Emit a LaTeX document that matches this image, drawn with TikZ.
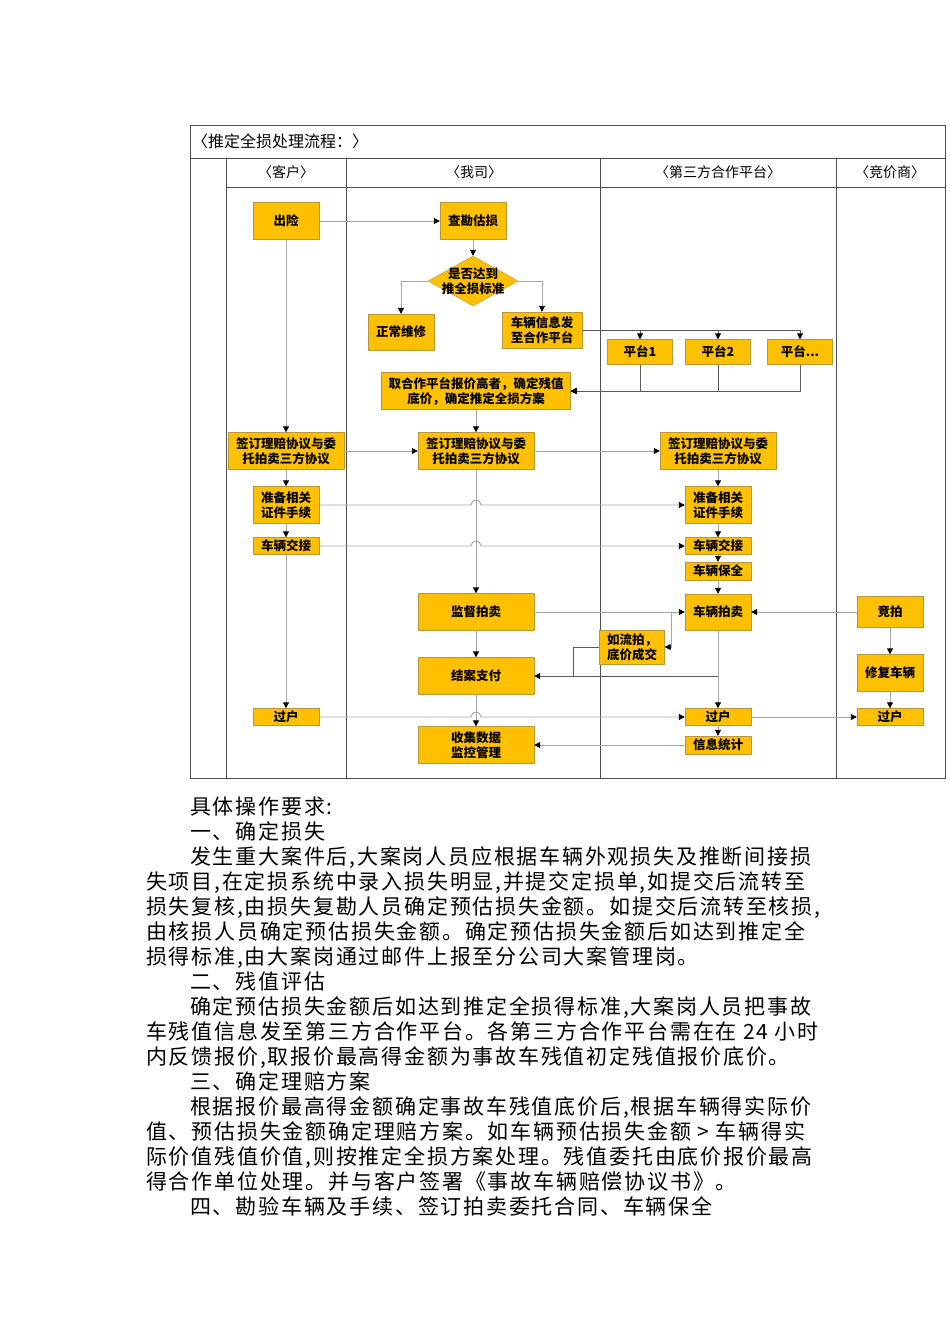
\documentclass[tikz,border=0pt]{standalone}
\usepackage{fontspec}
\newfontfamily\cjk{Noto Sans CJK SC}
\newfontfamily\bodyfont{Noto Sans CJK SC}[LetterSpace=8.5]
\usetikzlibrary{shapes.geometric,arrows.meta,calc}
\definecolor{boxfill}{HTML}{FFC000}
\definecolor{boxline}{HTML}{B8963C}
\definecolor{laneline}{HTML}{4D4D4D}
\definecolor{flowline}{HTML}{A6A6A6}
\definecolor{darkflow}{HTML}{595959}

\begin{document}
\begin{tikzpicture}
[x=1pt, y=-1pt,
>={Triangle[length=6pt,width=6pt,color=black]},
box/.style = {draw=boxline, fill=boxfill, align=center, inner sep=0pt,
	font=\cjk\bfseries\fontsize{12.5}{15}\selectfont,
	minimum width=66pt, minimum height=37pt},
wide/.style = {box, minimum width=116pt},
thin/.style = {box, minimum height=17pt},
check/.style = {box, shape=diamond, aspect=1.8, inner sep=-4pt,
	minimum width=90pt, minimum height=50pt},
lane/.style = {inner sep=0pt, font=\cjk\fontsize{14}{16}\selectfont},
line/.style = {draw=flowline, line width=0.9pt},
dline/.style = {draw=darkflow, line width=0.9pt},
para/.style = {anchor=west, inner sep=0pt, text height=17pt, text depth=4pt,
	font=\bodyfont\fontsize{21}{25}\selectfont},
]
\fill[white] (0,0) rectangle (950,1344);
\useasboundingbox (0,0) rectangle (950,1344);

% swimlanes
\draw[laneline, line width=1pt] (190,125) rectangle (945,778);
\draw[laneline] (190,158) -- (945,158) (226,187) -- (945,187);
\foreach \x in {226,346,600,836}
	\draw[laneline] (\x,158) -- (\x,778);
\node[lane, anchor=west, font=\cjk\fontsize{16}{18}\selectfont] (title) at (192,141) {〈推定全损处理流程：〉};
\node[lane] (kehu) at (286,172) {〈客户〉};
\node[lane] (wosi) at (474,172) {〈我司〉};
\node[lane] (disanfang) at (718,172) {〈第三方合作平台〉};
\node[lane] (jingjia) at (890,172) {〈竞价商〉};

% steps
\node[box] (chuxian) at (286,221) {出险};
\node[box] (chakan) at (473,221) {查勘估损};
\node[check] (panduan) at (473,281) {是否达到\\推全损标准};
\node[box, minimum height=36pt] (weixiu) at (401,332) {正常维修};
\node[box, minimum width=80pt, minimum height=36pt] (fasong) at (542,330) {车辆信息发\\至合作平台};
\node[box, minimum width=65pt, minimum height=25pt] (pingtai1) at (640,352) {平台1};
\node[box, minimum width=65pt, minimum height=25pt] (pingtai2) at (718,352) {平台2};
\node[box, minimum width=65pt, minimum height=25pt] (pingtai3) at (800,352) {平台...};
\node[box, minimum width=189pt] (dijia) at (476,391) {取合作平台报价高者，确定残值\\底价，确定推定全损方案};
\node[wide] (xieyi1) at (286,451) {签订理赔协议与委\\托拍卖三方协议};
\node[wide] (xieyi2) at (476,451) {签订理赔协议与委\\托拍卖三方协议};
\node[wide] (xieyi3) at (718,451) {签订理赔协议与委\\托拍卖三方协议};
\node[box] (zhunbei1) at (286,505) {准备相关\\证件手续};
\node[box] (zhunbei3) at (718,505) {准备相关\\证件手续};
\node[thin] (jiaojie1) at (286,546) {车辆交接};
\node[thin] (jiaojie3) at (718,546) {车辆交接};
\node[thin, minimum height=18pt] (baoquan) at (718,571) {车辆保全};
\node[wide] (jiandu) at (476,612) {监督拍卖};
\node[box, minimum height=36pt] (paimai) at (718,612) {车辆拍卖};
\node[box, minimum height=31pt] (jingpai) at (890,612) {竞拍};
\node[box, minimum width=65pt, minimum height=34pt, align=left] (liupai) at (632,647) {如流拍，\\底价成交};
\node[wide] (jiean) at (476,676) {结案支付};
\node[box] (xiufu) at (890,673) {修复车辆};
\node[thin] (guohu1) at (286,717) {过户};
\node[thin] (guohu3) at (718,717) {过户};
\node[thin] (guohu4) at (890,717) {过户};
\node[wide] (shouji) at (476,745) {收集数据\\监控管理};
\node[thin, minimum height=18pt] (tongji) at (718,745) {信息统计};
\coordinate (liufork) at (671,612);
\coordinate (liubend) at (573,676);

% flow
\draw[line,->] (chuxian) -- (chakan);
\draw[line,->] (chuxian) -- (xieyi1);
\draw[line,->] (chakan) -- (panduan);
\draw[line,->] (panduan.west) -| (weixiu);
\draw[line,->] (panduan.east) -| (fasong);
\draw[dline,->] (fasong.east) -| (pingtai1);
\draw[dline,->] (fasong.east) -| (pingtai2);
\draw[dline,->] (fasong.east) -| (pingtai3);
\draw[dline,->] (pingtai1) |- (dijia.east);
\draw[dline,->] (pingtai2) |- (dijia.east);
\draw[dline,->] (pingtai3) |- (dijia.east);
\draw[line,->] (dijia) -- (xieyi2);
\draw[line,->] (xieyi1) -- (xieyi2);
\draw[line,->] (xieyi2) -- (xieyi3);
\draw[line,->] (xieyi1) -- (zhunbei1);
\draw[line,->] (zhunbei1) -- (jiaojie1);
\draw[line,->] (jiaojie1) -- (guohu1);
\draw[line,->] (xieyi3) -- (zhunbei3);
\draw[line,->] (zhunbei3) -- (jiaojie3);
\draw[line,->] (jiaojie3) -- (baoquan);
\draw[line,->] (baoquan) -- (paimai);
\draw[line,->] (xieyi2) -- (jiandu);
\draw[line,->] (zhunbei1.east) -- ($(xieyi2 |- zhunbei1)+(-5pt,0)$)
	arc[start angle=180, end angle=0, radius=5pt] -- (zhunbei3.west);
\draw[line,->] (jiaojie1.east) -- ($(xieyi2 |- jiaojie1)+(-5pt,0)$)
	arc[start angle=180, end angle=0, radius=5pt] -- (jiaojie3.west);
\draw[line,->] (jiandu) -- (paimai);
\draw[line,->] (jingpai) -- (paimai);
\draw[line,->] (jingpai) -- (xiufu);
\draw[line,->] (xiufu) -- (guohu4);
\draw[line,->] (liufork) |- (liupai.east);
\draw[dline] (liupai.west) -| (liubend);
\draw[dline,->] (paimai.south) |- (jiean.east);
\draw[line,->] (paimai) -- (guohu3);
\draw[line,->] (jiandu) -- (jiean);
\draw[line,->] (jiean) -- (shouji);
\draw[line,->] (guohu1.east) -- ($(jiean |- guohu1)+(-5pt,0)$)
	arc[start angle=180, end angle=0, radius=5pt] -- (guohu3.west);
\draw[line,->] (guohu3) -- (guohu4);
\draw[line,->] (guohu3) -- (tongji);
\draw[line,->] (tongji) -- (shouji);

% text below
\node[para] (txt1) at (190,808) {具体操作要求:};
\node[para] (txt2) at (190,833) {一、确定损失};
\node[para] (txt3) at (190,858) {发生重大案件后,大案岗人员应根据车辆外观损失及推断间接损};
\node[para] (txt4) at (146,883) {失项目,在定损系统中录入损失明显,并提交定损单,如提交后流转至};
\node[para] (txt5) at (146,908) {损失复核,由损失复勘人员确定预估损失金额。如提交后流转至核损,};
\node[para] (txt6) at (146,933) {由核损人员确定预估损失金额。确定预估损失金额后如达到推定全};
\node[para] (txt7) at (146,958) {损得标准,由大案岗通过邮件上报至分公司大案管理岗。};
\node[para] (txt8) at (190,983) {二、残值评估};
\node[para] (txt9) at (190,1008) {确定预估损失金额后如达到推定全损得标准,大案岗人员把事故};
\node[para] (txt10) at (146,1033) {车残值信息发至第三方合作平台。各第三方合作平台需在在 24 小时};
\node[para] (txt11) at (146,1058) {内反馈报价,取报价最高得金额为事故车残值初定残值报价底价。};
\node[para] (txt12) at (190,1083) {三、确定理赔方案};
\node[para] (txt13) at (190,1108) {根据报价最高得金额确定事故车残值底价后,根据车辆得实际价};
\node[para] (txt14) at (146,1133) {值、预估损失金额确定理赔方案。如车辆预估损失金额 > 车辆得实};
\node[para] (txt15) at (146,1158) {际价值残值价值,则按推定全损方案处理。残值委托由底价报价最高};
\node[para] (txt16) at (146,1183) {得合作单位处理。并与客户签署《事故车辆赔偿协议书》。};
\node[para] (txt17) at (190,1208) {四、勘验车辆及手续、签订拍卖委托合同、车辆保全};
\end{tikzpicture}
\end{document}
